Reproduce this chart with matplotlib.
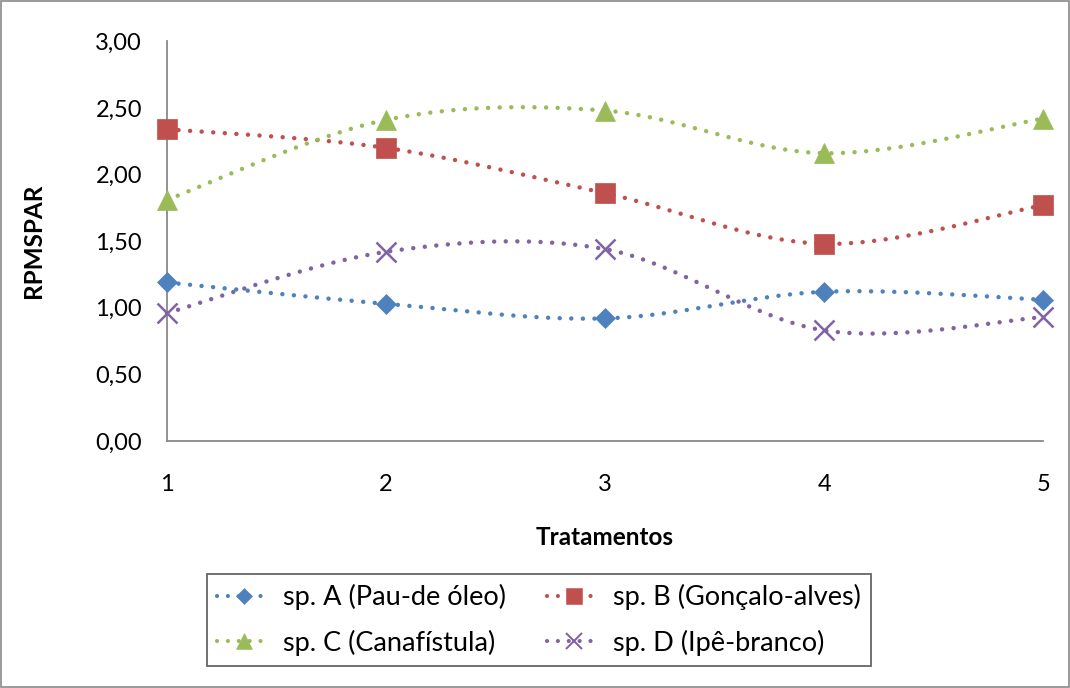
import numpy as np
import matplotlib
matplotlib.use("Agg")
from matplotlib import pyplot as plt
from matplotlib.patches import Rectangle

plt.rcParams['font.family'] = ['Lato', 'DejaVu Sans']

# data
tratamentos = [1, 2, 3, 4, 5]
sp_a = [1.19, 1.03, 0.92, 1.12, 1.06]
sp_b = [2.34, 2.20, 1.86, 1.48, 1.77]
sp_c = [1.81, 2.41, 2.48, 2.16, 2.42]
sp_d = [0.96, 1.42, 1.44, 0.83, 0.93]
labels = ['sp. A (Pau-de óleo)', 'sp. B (Gonçalo-alves)',
          'sp. C (Canafístula)', 'sp. D (Ipê-branco)']
yticks = [0, 0.5, 1.0, 1.5, 2.0, 2.5, 3.0]

colors = ['#4F81BD', '#C0504D', '#9BBB59', '#8064A2']
markers = ['D', 's', '^', 'x']
msizes = [10, 14, 14, 14]


def smooth(x, y, n=40):
    # catmull-rom style curve like excel's smoothed line
    x = np.asarray(x, float)
    y = np.asarray(y, float)
    px = np.concatenate([[x[0]], x, [x[-1]]])
    py = np.concatenate([[y[0]], y, [y[-1]]])
    xs, ys = [], []
    t = np.linspace(0, 1, n)
    for i in range(1, len(px) - 2):
        p0, p1, p2, p3 = [np.array([px[j], py[j]]) for j in (i - 1, i, i + 1, i + 2)]
        c1 = p1 + (p2 - p0) / 6
        c2 = p2 - (p3 - p1) / 6
        b = ((1 - t) ** 3)[:, None] * p1 + (3 * (1 - t) ** 2 * t)[:, None] * c1 \
            + (3 * (1 - t) * t ** 2)[:, None] * c2 + (t ** 3)[:, None] * p2
        xs.append(b[:, 0])
        ys.append(b[:, 1])
    return np.concatenate(xs), np.concatenate(ys)


fig = plt.figure(figsize=(10.7, 6.88), dpi=100)
ax = fig.add_axes([0.156, 0.359, 0.819, 0.581])

dot = (0, (0.01, 2.6))
handles = []
for vals, c, m, ms, lab in zip([sp_a, sp_b, sp_c, sp_d], colors, markers, msizes, labels):
    sx, sy = smooth(tratamentos, vals)
    ax.plot(sx, sy, color=c, lw=3.2, linestyle=dot, dash_capstyle='round', zorder=2,
            clip_on=False)
    mew = 1.8 if m == 'x' else 0.5
    ax.plot(tratamentos, vals, linestyle='none', marker=m, color=c, markersize=ms,
            markeredgewidth=mew, zorder=3, clip_on=False)
    h, = ax.plot([], [], color=c, lw=3.0, linestyle=dot, dash_capstyle='round',
                 marker=m, markersize=ms * 0.8, markeredgewidth=mew * 0.8, label=lab)
    handles.append(h)

ax.set_xlim(1, 5)
ax.set_ylim(0, 3)
ax.set_xticks(tratamentos)
ax.set_yticks(yticks)
ax.set_yticklabels([('%.2f' % v).replace('.', ',') for v in yticks])
ax.tick_params(axis='both', length=0, labelsize=17)
ax.tick_params(axis='y', pad=18)
ax.tick_params(axis='x', pad=24)
for s in ['top', 'right']:
    ax.spines[s].set_visible(False)
for s in ['left', 'bottom']:
    ax.spines[s].set_color('#898989')
    ax.spines[s].set_linewidth(1.3)

ax.set_xlabel('Tratamentos', fontsize=17.5, fontweight='bold', labelpad=22)
ax.set_ylabel('RPMSPAR', fontsize=17.5, fontweight='bold', labelpad=36)

# legend fills row by row: A, B / C, D
order = [0, 2, 1, 3]
leg = fig.legend(handles=[handles[i] for i in order], ncol=2, loc='center',
                 bbox_to_anchor=(0.5037, 0.0988),
                 fontsize=19.5, frameon=True, fancybox=False, edgecolor='#404040',
                 handlelength=2.0, handletextpad=0.45, columnspacing=1.5,
                 borderpad=0.38, labelspacing=0.72, numpoints=1)
leg.get_frame().set_linewidth(1.3)

fig.patches.append(Rectangle((0.001, 0.001), 0.998, 0.998, transform=fig.transFigure,
                             fill=False, edgecolor='#898989', lw=1.2))

fig.savefig('out.png', dpi=100)
